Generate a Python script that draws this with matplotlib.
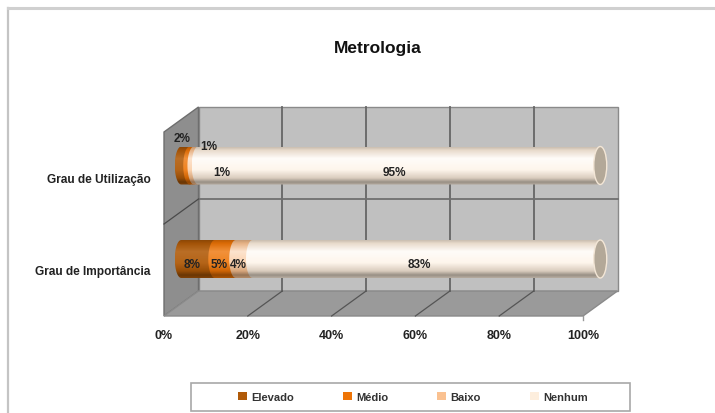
import matplotlib
matplotlib.use("Agg")
import matplotlib.pyplot as plt
import numpy as np
from matplotlib.colors import LinearSegmentedColormap, to_rgb
from matplotlib.patches import Ellipse, PathPatch, Patch, Polygon, Rectangle
from matplotlib.path import Path

plt.rcParams['font.family'] = ['Liberation Sans', 'DejaVu Sans']

categories = ["Grau de Importância", "Grau de Utilização"]
series = ["Elevado", "Médio", "Baixo", "Nenhum"]
importancia = [8, 5, 4, 83]
utilizacao = [2, 1, 1, 95]
colors = ["#b05a08", "#ee7406", "#fac190", "#fdeedd"]
x_ticks = [0, 20, 40, 60, 80, 100]

# label offsets in pixels from the middle of each piece, the small ones were moved by hand
offs_imp = [(-6, -5), (-6, -5), (-6, -5), (-7, -5)]
offs_uti = [(-3, 28), (17, 20), (26, -6), (-5, -6)]

W, H = 715, 414
fig = plt.figure(figsize=(W / 100, H / 100), dpi=100)
ax = fig.add_axes([164 / W, (H - 317) / H, 419 / W, 184 / H])

# outer frame of the chart, only top and left are visible
fig.add_artist(plt.Line2D([8 / W, 8 / W], [0, (H - 9) / H], color="#c4c4c4", lw=1.6))
fig.add_artist(plt.Line2D([8 / W, 1], [(H - 9) / H, (H - 9) / H], color="#d0d0d0", lw=2.2))

px_x = 100 / 419
px_y = 2 / 184
dx = 34.5 * px_x
dy = 25 * px_y
half_h = 19 * px_y
rx = 6.5 * px_x

# walls of the 3d box
ax.add_patch(Polygon([(dx, dy), (100 + dx, dy), (100 + dx, 2 + dy), (dx, 2 + dy)],
                     fc="#c0c0c0", ec="#8a8a8a", lw=1, clip_on=False))
ax.add_patch(Polygon([(0, 0), (dx, dy), (dx, 2 + dy), (0, 2)],
                     fc="#8e8e8e", ec="#6e6e6e", lw=1, clip_on=False))
ax.add_patch(Polygon([(0, 0), (100, 0), (100 + dx, dy), (dx, dy)],
                     fc="#9a9a9a", ec="#8a8a8a", lw=1, clip_on=False))

for t in x_ticks[1:-1]:
    ax.plot([t + dx, t + dx], [dy, 2 + dy], color="#666666", lw=1.3, clip_on=False)
    ax.plot([t, t + dx], [0, dy], color="#555555", lw=0.9, clip_on=False)
ax.plot([dx, 100 + dx], [1 + dy, 1 + dy], color="#707070", lw=1.3, clip_on=False)
ax.plot([0, dx], [1, 1 + dy], color="#4a4a4a", lw=0.9, clip_on=False)
ax.plot([100, 100], [0, -4 * px_y], color="#999999", lw=1, clip_on=False)


def shade(col):
    c = np.array(to_rgb(col))
    w = np.ones(3)
    lum = c.mean() ** 2
    stops = [(0, c * 0.8), (0.08, c * 0.92), (0.3, c + (w - c) * 0.95 * lum), (0.6, c + (w - c) * 0.5 * lum),
             (0.82, c * 0.86), (0.93, c * 0.6), (1, c * 0.72)]
    return LinearSegmentedColormap.from_list("s", [(a, tuple(np.clip(b, 0, 1))) for a, b in stops])


def piece(x0, x1, yc):
    # left side bulges out, right side too, the next piece is painted over it
    a = np.linspace(np.pi / 2, 3 * np.pi / 2, 30)
    b = np.linspace(-np.pi / 2, np.pi / 2, 30)
    xs = np.r_[x0 + rx * np.cos(a), x1 + rx * np.cos(b)]
    ys = np.r_[yc + half_h * np.sin(a), yc + half_h * np.sin(b)]
    return Path(np.c_[xs, ys], closed=False)


grad = np.linspace(0, 1, 80).reshape(-1, 1)
rows = [(0.5, importancia, offs_imp, -1.5 * px_y), (1.5, utilizacao, offs_uti, 0)]
for yc, vals, offs, nudge in rows:
    pct = np.array(vals) / sum(vals) * 100
    left = np.r_[0, np.cumsum(pct)[:-1]]
    bar_y = yc + dy / 2 + nudge
    for i in range(len(series)):
        x0 = left[i] + dx / 2
        x1 = x0 + pct[i]
        im = ax.imshow(grad, cmap=shade(colors[i]), aspect="auto",
                       extent=[x0 - rx, x1 + rx, bar_y - half_h, bar_y + half_h], zorder=3 + i * 0.1)
        clip = PathPatch(piece(x0, x1, bar_y), transform=ax.transData)
        im.set_clip_box(fig.bbox)
        im.set_clip_path(clip)
    ax.add_patch(Ellipse((100 + dx / 2, bar_y), 2 * rx, 2 * half_h, fc="#b3a898", ec="#f3e6d6",
                         lw=1, zorder=4, clip_on=False))
    for i in range(len(series)):
        ax.annotate(f"{vals[i]}%", (left[i] + pct[i] / 2 + dx / 2, bar_y),
                    xytext=(offs[i][0] * 0.72, offs[i][1] * 0.72), textcoords="offset points",
                    ha="center", va="center", fontsize=8.5, fontweight="bold", color="#222222",
                    zorder=6, annotation_clip=False)

ax.set_xlim(0, 100)
ax.set_ylim(0, 2)
ax.set_xticks(x_ticks)
ax.set_xticklabels([f"{t}%" for t in x_ticks], fontsize=9, fontweight="bold", color="#222222")
ax.set_yticks([0.5, 1.5])
ax.set_yticklabels(categories, fontsize=8.6, fontweight="bold", color="#222222")
ax.tick_params(axis="y", length=0, pad=9.5)
ax.tick_params(axis="x", length=0, pad=9.5)
for s in ax.spines.values():
    s.set_visible(False)

fig.text(378 / W, (H - 48) / H, "Metrologia", ha="center", va="center",
         fontsize=12.5, fontweight="bold", color="#111111")

# legend box
fig.add_artist(Rectangle((191 / W, (H - 412) / H), 439 / W, 28 / H, transform=fig.transFigure,
                         fc="white", ec="#a8a8a8", lw=1.2))
handles = [Patch(fc=c, ec="none") for c in colors]
leg = fig.legend(handles, series, loc="center", bbox_to_anchor=(413 / W, (H - 398) / H), ncol=4,
                 frameon=False, handlelength=0.8, handleheight=0.8, handletextpad=0.4,
                 columnspacing=4.4, prop={"size": 8, "weight": "bold"})
for t in leg.get_texts():
    t.set_color("#333333")

fig.savefig("out.png", dpi=100)
